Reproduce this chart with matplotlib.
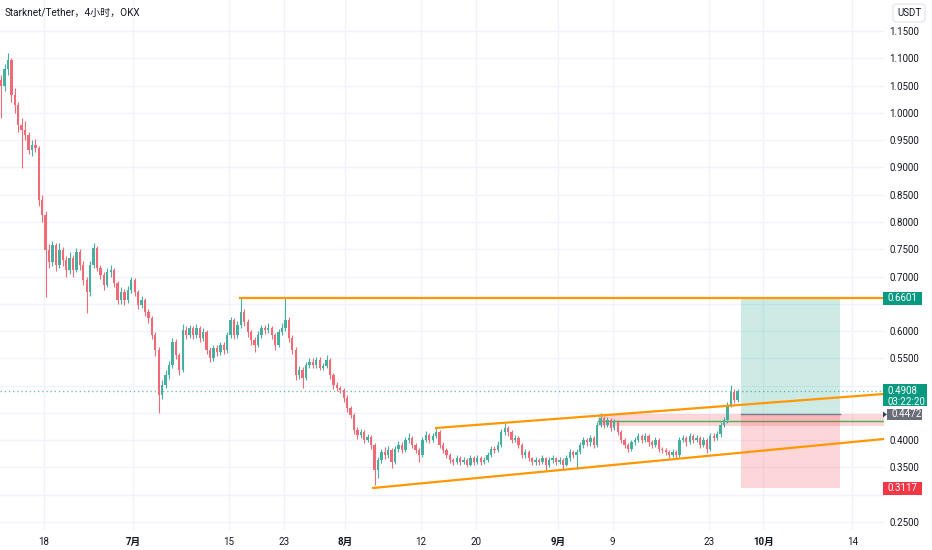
import numpy as np
import matplotlib.pyplot as plt
from matplotlib import transforms
from matplotlib.patches import Rectangle, Polygon

plt.rcParams['font.family'] = ['Roboto', 'Noto Sans CJK SC', 'DejaVu Sans']

# 12h bars (price in USDT)
first_open = 1.06
closes = [1.05, 1.08, 1.097, 1.033, 1.014, 0.978, 0.969, 0.96, 0.932, 0.941,
          0.936, 0.84, 0.813, 0.749, 0.727, 0.758, 0.721, 0.749, 0.73, 0.712,
          0.734, 0.712, 0.745, 0.721, 0.694, 0.672, 0.721, 0.752, 0.716, 0.703,
          0.684, 0.708, 0.712, 0.688, 0.657, 0.672, 0.657, 0.675, 0.694, 0.672,
          0.648, 0.657, 0.635, 0.624, 0.593, 0.565, 0.483, 0.501, 0.519, 0.538,
          0.58, 0.556, 0.529, 0.602, 0.593, 0.606, 0.593, 0.606, 0.587, 0.598,
          0.565, 0.551, 0.569, 0.562, 0.575, 0.565, 0.593, 0.62, 0.593, 0.611,
          0.635, 0.617, 0.598, 0.584, 0.575, 0.593, 0.606, 0.602, 0.606, 0.593,
          0.575, 0.598, 0.606, 0.62, 0.587, 0.565, 0.519, 0.529, 0.514, 0.538,
          0.543, 0.538, 0.547, 0.533, 0.536, 0.547, 0.519, 0.501, 0.496, 0.492,
          0.477, 0.459, 0.446, 0.419, 0.41, 0.415, 0.40, 0.405, 0.391, 0.346,
          0.364, 0.378, 0.373, 0.382, 0.36, 0.384, 0.391, 0.382, 0.40, 0.404,
          0.391, 0.382, 0.373, 0.40, 0.41, 0.40, 0.408, 0.415, 0.391, 0.382,
          0.373, 0.364, 0.36, 0.367, 0.36, 0.364, 0.355, 0.367, 0.36, 0.367,
          0.36, 0.364, 0.373, 0.384, 0.382, 0.391, 0.415, 0.422, 0.415, 0.40,
          0.404, 0.391, 0.373, 0.378, 0.367, 0.36, 0.364, 0.36, 0.367, 0.355,
          0.364, 0.367, 0.36, 0.364, 0.355, 0.367, 0.378, 0.373, 0.378, 0.391,
          0.40, 0.396, 0.404, 0.391, 0.428, 0.441, 0.428, 0.437, 0.422, 0.433,
          0.415, 0.40, 0.391, 0.384, 0.396, 0.40, 0.408, 0.40, 0.408, 0.396,
          0.391, 0.40, 0.384, 0.382, 0.378, 0.373, 0.378, 0.373, 0.40, 0.404,
          0.396, 0.408, 0.40, 0.404, 0.391, 0.40, 0.384, 0.408, 0.404, 0.411,
          0.428, 0.437, 0.464, 0.488, 0.473, 0.4908]
highs = [1.07, 1.09, 1.11, 1.10, 1.045, 1.02, 0.99, 0.985, 0.965, 0.95,
         0.952, 0.94, 0.85, 0.82, 0.76, 0.765, 0.762, 0.762, 0.755, 0.738,
         0.745, 0.74, 0.752, 0.75, 0.728, 0.70, 0.728, 0.762, 0.756, 0.722,
         0.708, 0.715, 0.722, 0.716, 0.692, 0.68, 0.678, 0.682, 0.70, 0.698,
         0.676, 0.665, 0.66, 0.64, 0.628, 0.598, 0.57, 0.51, 0.528, 0.545,
         0.588, 0.585, 0.56, 0.613, 0.61, 0.612, 0.61, 0.613, 0.61, 0.605,
         0.602, 0.57, 0.575, 0.575, 0.58, 0.58, 0.598, 0.626, 0.624, 0.618,
         0.6601, 0.64, 0.622, 0.602, 0.59, 0.60, 0.612, 0.612, 0.615, 0.61,
         0.597, 0.604, 0.614, 0.6601, 0.625, 0.592, 0.57, 0.536, 0.534, 0.544,
         0.55, 0.55, 0.553, 0.552, 0.542, 0.556, 0.55, 0.524, 0.506, 0.50,
         0.496, 0.482, 0.463, 0.45, 0.424, 0.42, 0.419, 0.412, 0.409, 0.394,
         0.37, 0.384, 0.388, 0.39, 0.386, 0.39, 0.398, 0.396, 0.406, 0.413,
         0.408, 0.395, 0.386, 0.405, 0.416, 0.414, 0.414, 0.422, 0.418, 0.396,
         0.386, 0.377, 0.368, 0.372, 0.371, 0.37, 0.368, 0.372, 0.371, 0.373,
         0.371, 0.37, 0.378, 0.39, 0.39, 0.398, 0.42, 0.431, 0.426, 0.418,
         0.41, 0.407, 0.394, 0.384, 0.382, 0.37, 0.37, 0.368, 0.372, 0.37,
         0.369, 0.373, 0.37, 0.37, 0.368, 0.372, 0.384, 0.382, 0.384, 0.397,
         0.406, 0.404, 0.41, 0.408, 0.434, 0.45, 0.445, 0.443, 0.441, 0.439,
         0.437, 0.418, 0.404, 0.394, 0.401, 0.405, 0.413, 0.411, 0.414, 0.411,
         0.40, 0.405, 0.404, 0.388, 0.386, 0.382, 0.383, 0.382, 0.405, 0.41,
         0.408, 0.413, 0.412, 0.41, 0.407, 0.406, 0.404, 0.414, 0.413, 0.417,
         0.434, 0.443, 0.47, 0.501, 0.494, 0.494]
lows = [0.99, 1.04, 1.07, 1.02, 1.00, 0.965, 0.899, 0.95, 0.925, 0.92,
        0.928, 0.83, 0.80, 0.662, 0.715, 0.72, 0.71, 0.715, 0.72, 0.70,
        0.705, 0.70, 0.708, 0.712, 0.685, 0.633, 0.665, 0.715, 0.71, 0.695,
        0.675, 0.68, 0.70, 0.68, 0.65, 0.65, 0.648, 0.652, 0.67, 0.665,
        0.64, 0.642, 0.628, 0.615, 0.585, 0.555, 0.45, 0.475, 0.495, 0.512,
        0.532, 0.548, 0.52, 0.525, 0.585, 0.588, 0.585, 0.588, 0.58, 0.582,
        0.558, 0.543, 0.546, 0.555, 0.556, 0.558, 0.56, 0.588, 0.586, 0.588,
        0.605, 0.61, 0.59, 0.575, 0.562, 0.57, 0.588, 0.595, 0.596, 0.586,
        0.565, 0.57, 0.592, 0.60, 0.58, 0.558, 0.51, 0.512, 0.496, 0.51,
        0.532, 0.532, 0.533, 0.528, 0.528, 0.532, 0.512, 0.494, 0.49, 0.486,
        0.47, 0.452, 0.44, 0.412, 0.402, 0.404, 0.394, 0.396, 0.384, 0.318,
        0.33, 0.358, 0.366, 0.368, 0.349, 0.356, 0.378, 0.376, 0.378, 0.395,
        0.386, 0.376, 0.36, 0.37, 0.396, 0.394, 0.396, 0.404, 0.386, 0.376,
        0.368, 0.358, 0.354, 0.356, 0.354, 0.356, 0.35, 0.352, 0.355, 0.356,
        0.354, 0.356, 0.36, 0.37, 0.376, 0.378, 0.388, 0.41, 0.408, 0.394,
        0.396, 0.386, 0.368, 0.368, 0.362, 0.354, 0.355, 0.354, 0.356, 0.346,
        0.35, 0.358, 0.354, 0.356, 0.348, 0.352, 0.362, 0.367, 0.348, 0.374,
        0.386, 0.39, 0.39, 0.386, 0.388, 0.424, 0.422, 0.424, 0.416, 0.418,
        0.41, 0.394, 0.385, 0.378, 0.38, 0.392, 0.396, 0.395, 0.396, 0.39,
        0.385, 0.387, 0.379, 0.376, 0.372, 0.368, 0.369, 0.367, 0.37, 0.396,
        0.39, 0.393, 0.395, 0.396, 0.386, 0.388, 0.376, 0.38, 0.398, 0.40,
        0.406, 0.424, 0.432, 0.46, 0.468, 0.47]

start_day = 10.74   # days after 1 June
bar_step = 0.5      # 12h

tick_days = [17, 30, 44, 52, 61, 72, 80, 92, 100, 114, 122, 135]
tick_labels = ['18', '7月', '15', '23', '8月', '12', '20', '9月', '9', '23', '10月', '14']
month_labels = ['7月', '8月', '9月', '10月']

# drawings
resist_level = 0.6601
resist_start = 45.6
upper_channel = [(74.23, 0.4224), (139.6, 0.4847)]
lower_channel = [(65.04, 0.3124), (139.6, 0.4022)]
zone_start, zone_low, zone_high, zone_mid = 97.9, 0.426, 0.448, 0.4352
pos_start, pos_end = 118.76, 133.2
take_profit, entry, stop = 0.6601, 0.4472, 0.3117
last_price = 0.4908
countdown = '03:22:20'
# scale labels hidden under the price tags
covered_ticks = [0.30, 0.45, 0.50, 0.65]

UP = '#45b09f'
DOWN = '#f06b76'
GRID = '#f0f3fa'
ORANGE = '#ff9800'
TEXT = '#131722'

fig = plt.figure(figsize=(9.32, 5.5), dpi=100)
ax = fig.add_axes([0, 20 / 550, 884 / 932, 530 / 550])
x_min, x_max = 10.58, 139.6
y_min, y_max = 0.2354, 1.2068
ax.set_xlim(x_min, x_max)
ax.set_ylim(y_min, y_max)

opens = [first_open] + closes[:-1]
xs = start_day + bar_step * np.arange(len(closes))
for x, o, c, h, l in zip(xs, opens, closes, highs, lows):
    col = UP if c >= o else DOWN
    ax.vlines(x, l, h, color=col, lw=0.8, zorder=3)
    ax.bar(x, max(abs(c - o), 0.002), bottom=min(o, c), width=0.34,
           color=col, lw=0, zorder=3)

# grid
price_ticks = np.round(np.arange(0.25, 1.151, 0.05), 2)
for p in price_ticks:
    ax.axhline(p, color=GRID, lw=1, zorder=0)
for d in tick_days:
    ax.axvline(d, color=GRID, lw=1, zorder=0)

# lines
ax.plot([resist_start, x_max], [resist_level, resist_level], color=ORANGE, lw=1.6, zorder=4)
ax.plot(*zip(*upper_channel), color=ORANGE, lw=1.6, zorder=4)
ax.plot(*zip(*lower_channel), color=ORANGE, lw=1.6, zorder=4)
ax.axhline(last_price, color='#089981', lw=1, ls=(0, (1, 2)), alpha=0.6, zorder=2)

# zone
ax.add_patch(Rectangle((zone_start, zone_low), x_max - zone_start, zone_high - zone_low,
                       fc='#f23645', alpha=0.2, lw=0, zorder=2))
ax.plot([zone_start, x_max], [zone_mid, zone_mid], color='#4caf50', lw=1, zorder=2)

# long position
ax.add_patch(Rectangle((pos_start, entry), pos_end - pos_start, take_profit - entry,
                       fc='#089981', alpha=0.2, lw=0, zorder=2))
ax.add_patch(Rectangle((pos_start, stop), pos_end - pos_start, entry - stop,
                       fc='#f23645', alpha=0.2, lw=0, zorder=2))
ax.plot([pos_start, pos_end], [entry, entry], color='#787b86', lw=1, zorder=2)

for s in ax.spines.values():
    s.set_visible(False)

ax.yaxis.tick_right()
ax.set_yticks(price_ticks)
ax.set_yticklabels(['' if p in covered_ticks else f'{p:.4f}' for p in price_ticks])
ax.tick_params(axis='y', length=0, pad=4, labelsize=7, labelcolor=TEXT)
ax.set_xticks(tick_days)
ax.set_xticklabels(tick_labels)
ax.tick_params(axis='x', length=0, pad=5, labelsize=7, labelcolor=TEXT)
for lab in ax.get_xticklabels():
    if lab.get_text() in month_labels:
        lab.set_fontweight('bold')

# price tags on the scale
tr = transforms.blended_transform_factory(ax.transAxes, ax.transData)
k = (y_max - y_min) / 530  # price per pixel


def tag(price, label, color, x0=883, x1=922, up=6.5, down=6.5):
    ax.add_patch(Rectangle((x0 / 884, price - down * k), (x1 - x0) / 884, (up + down) * k,
                           transform=tr, fc=color, lw=0, clip_on=False, zorder=6))
    ax.text((x0 + 5) / 884, price, label, transform=tr, ha='left', va='center',
            color='white', fontsize=7, clip_on=False, zorder=7)


tag(take_profit, f'{take_profit:.4f}', '#089981')
tag(stop, f'{stop:.4f}', '#f23645')
tag(entry, f'{entry:.4f}', '#6a6d78', x0=887, x1=922, up=5.5, down=5.5)
ax.add_patch(Polygon([(883 / 884, entry + 3 * k), (887 / 884, entry), (883 / 884, entry - 3 * k)],
                     closed=True, transform=tr, fc='#3f4250', lw=0, clip_on=False, zorder=6))
tag(last_price, f'{last_price:.4f}', '#089981', x0=883, x1=927, up=7, down=15.5)
ax.text(888 / 884, last_price - 11 * k, countdown, transform=tr, ha='left', va='center',
        color='white', fontsize=7, clip_on=False, zorder=7)

# currency box and title
fig.text(909 / 932, 1 - 13 / 550, 'USDT', ha='center', va='center', fontsize=7, color=TEXT,
         bbox=dict(boxstyle='round,pad=0.4,rounding_size=0.3', fc='white', ec='#e0e3eb', lw=0.8))
fig.text(5 / 932, 1 - 13 / 550, 'Starknet/Tether，4小时，OKX', ha='left', va='center',
         fontsize=7.2, color=TEXT)

fig.savefig('out.png', dpi=100, facecolor='white')
